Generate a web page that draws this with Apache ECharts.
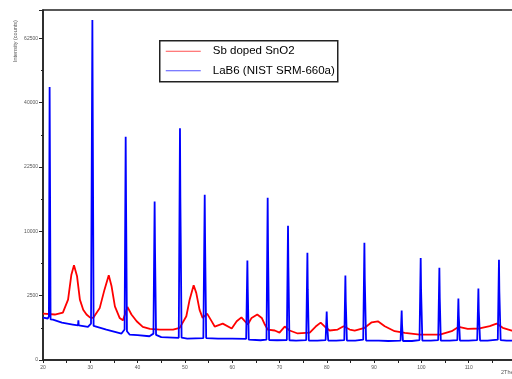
<!DOCTYPE html>
<html>
<head>
<meta charset="utf-8">
<script src="https://cdn.jsdelivr.net/npm/echarts@6/dist/echarts.min.js"></script>
<style>
  html, body { margin: 0; padding: 0; background: #fff; }
  #chart { width: 512px; height: 379px; }
</style>
</head>
<body>
<div id="chart"></div>
<script>
// XRD patterns, [2theta, counts]
const sbSnO2 = [
  [20.0, 1300], [22.5, 1250], [24.2, 1360], [25.3, 2200], [26.0, 4400], [26.55, 5410],
  [27.2, 4230], [27.8, 2200], [28.5, 1520], [29.2, 1250], [29.9, 1100], [30.6, 1070],
  [32.0, 1640], [33.0, 2990], [33.9, 4330], [34.5, 3280], [35.2, 1740], [36.2, 1070],
  [36.9, 950], [37.85, 1700], [38.7, 1250], [39.8, 905], [41.1, 665], [42.6, 585],
  [44.7, 560], [47.5, 560], [48.9, 625], [50.3, 1155], [51.0, 2200], [51.85, 3370],
  [52.4, 2720], [53.1, 1520], [53.75, 1070], [54.7, 1300], [55.7, 890], [56.3, 675],
  [58.0, 800], [59.9, 600], [60.95, 905], [61.95, 1100], [63.3, 760], [64.1, 1070],
  [65.3, 1250], [66.25, 1070], [66.9, 760], [67.5, 560], [69.0, 525], [70.0, 455],
  [71.1, 675], [72.15, 525], [73.85, 425], [76.4, 455], [77.65, 675], [78.7, 845],
  [79.8, 635], [80.6, 525], [82.3, 560], [83.55, 690], [84.85, 560], [85.9, 525],
  [88.0, 625], [89.5, 860], [90.8, 905], [92.25, 690], [94.35, 500], [96.5, 445],
  [99.65, 390], [103.9, 390], [106.4, 500], [107.9, 665], [109.8, 585], [112.3, 600],
  [114.45, 690], [115.9, 800], [117.2, 625], [119.1, 525], [120.0, 510]
]

const lab6 = [
  [20.0, 1087], [21.0, 1040], [21.25, 1150], [21.4, 45000], [21.47, 22500], [21.6, 1000],
  [22.1, 987], [24.0, 846], [26.3, 760], [27.4, 720], [27.48, 950], [27.56, 720],
  [29.5, 663], [30.15, 800], [30.44, 69800], [30.52, 34900], [30.7, 700], [30.9, 624],
  [33.4, 560], [35.0, 489], [36.6, 423], [37.25, 560], [37.48, 30080], [37.56, 15000],
  [37.75, 500], [38.3, 391], [40.0, 376], [42.5, 341], [43.35, 420], [43.6, 15180],
  [43.68, 7500], [43.9, 380], [45.0, 318], [48.7, 297], [48.96, 32440], [49.04, 16000],
  [49.3, 300], [50.5, 278], [53.9, 290], [54.19, 16470], [54.27, 8450], [54.5, 290],
  [57.0, 278], [60.0, 278], [62.95, 270], [63.21, 5990], [63.29, 3000], [63.5, 250],
  [66.0, 236], [67.25, 250], [67.5, 15900], [67.58, 7350], [67.8, 240], [69.5, 236],
  [71.55, 240], [71.8, 10890], [71.88, 5260], [72.1, 236], [73.5, 229], [75.65, 240],
  [75.9, 6955], [75.98, 2990], [76.2, 229], [78.0, 229], [79.75, 240], [79.98, 1415],
  [80.06, 800], [80.3, 229], [82.0, 229], [83.7, 240], [83.93, 4300], [84.01, 2080],
  [84.25, 229], [86.0, 229], [87.7, 250], [87.95, 8310], [88.03, 3970], [88.3, 229],
  [91.0, 229], [93.0, 218], [95.6, 229], [95.83, 1474], [95.91, 758], [96.1, 218],
  [98.0, 218], [99.6, 240], [99.85, 6286], [99.93, 2990], [100.2, 229], [102.0, 229],
  [103.55, 240], [103.8, 5150], [103.88, 2373], [104.1, 229], [106.0, 229], [107.6, 240],
  [107.82, 2276], [107.9, 1192], [108.15, 229], [110.0, 229], [111.8, 240], [112.05, 3077],
  [112.13, 1474], [112.4, 229], [114.0, 229], [116.15, 250], [116.4, 6080], [116.48, 2823],
  [116.75, 240], [118.0, 229], [120.0, 229]
]

const seriesNames = ['Sb doped SnO2', 'LaB6 (NIST SRM-660a)']
const seriesColors = ['#ff0000', '#0000ff']
const legendColors = ['#ff5050', '#5050ff']
// y axis is square-root scaled, labels at these counts
const yTickCounts = [0, 2500, 10000, 22500, 40000, 62500]

const sqrtData = arr => arr.map(p => [p[0], Math.sqrt(p[1])])

const chart = echarts.init(document.getElementById('chart'))

const axisGray = '#555'

// legend box drawn by hand (line keys + names)
const legendRows = [10.5, 30]
const legendGraphic = {
  type: 'group', left: 159, top: 40,
  children: [
    { type: 'rect', shape: { x: 0, y: 0, width: 178, height: 41 }, style: { fill: '#fff', stroke: '#222', lineWidth: 1.5 } }
  ].concat(seriesNames.flatMap((name, i) => [
    { type: 'line', shape: { x1: 6, y1: legendRows[i], x2: 41, y2: legendRows[i] }, style: { stroke: legendColors[i], lineWidth: 1 } },
    { type: 'text', x: 53, y: legendRows[i], style: { text: name, fontFamily: 'Liberation Sans', fontSize: 11.5, fill: '#000', textAlign: 'left', textVerticalAlign: 'middle' } }
  ])),
  z: 100
}

let option = {
  animation: false,
  grid: {
    left: 43, top: 10, width: 473, height: 350,
    outerBoundsMode: 'none',
    show: true, borderColor: '#222', borderWidth: 1.5
  },
  xAxis: {
    type: 'value', min: 20, max: 120, interval: 10,
    axisLine: { lineStyle: { color: '#222', width: 1.5 } },
    axisTick: { length: 3, lineStyle: { color: '#222' } },
    minorTick: { show: true, splitNumber: 2, length: 3, lineStyle: { color: '#222' } },
    splitLine: { show: false },
    axisLabel: { fontFamily: 'Liberation Sans', fontSize: 5, color: axisGray, margin: 5 }
  },
  yAxis: [
    {
      type: 'value', min: 0, max: 272, interval: 50,
      axisLine: { show: true, lineStyle: { color: '#222', width: 1.5 } },
      axisTick: { show: true, length: 4, lineStyle: { color: '#222' } },
      splitLine: { show: false },
      axisLabel: {
        fontFamily: 'Liberation Sans', fontSize: 5, color: axisGray, margin: 5,
        formatter: v => (yTickCounts.includes(v * v) ? String(v * v) : '')
      }
    },
    {
      // short in-between ticks
      type: 'value', min: 0, max: 272, interval: 25, position: 'left',
      axisLine: { show: false },
      axisTick: { show: true, length: 2, lineStyle: { color: '#222' } },
      axisLabel: { show: false },
      splitLine: { show: false }
    }
  ],
  series: [
    {
      name: seriesNames[0], type: 'line', symbol: 'none', yAxisIndex: 0,
      color: seriesColors[0],
      lineStyle: { width: 1.8, color: seriesColors[0] },
      data: sqrtData(sbSnO2)
    },
    {
      name: seriesNames[1], type: 'line', symbol: 'none', yAxisIndex: 0,
      color: seriesColors[1],
      lineStyle: { width: 1.8, color: seriesColors[1] },
      data: sqrtData(lab6)
    }
  ],
  graphic: [
    legendGraphic,
    {
      type: 'text', x: 12, y: 62, rotation: Math.PI / 2,
      style: { text: 'Intensity (counts)', fontFamily: 'Liberation Sans', fontSize: 5.5, fill: axisGray, textAlign: 'left', textVerticalAlign: 'top' }
    },
    {
      type: 'text', x: 501, y: 372,
      style: { text: '2Theta', fontFamily: 'Liberation Sans', fontSize: 5.5, fill: axisGray, textAlign: 'left', textVerticalAlign: 'middle' }
    }
  ]
}
chart.setOption(option)
</script>
</body>
</html>
